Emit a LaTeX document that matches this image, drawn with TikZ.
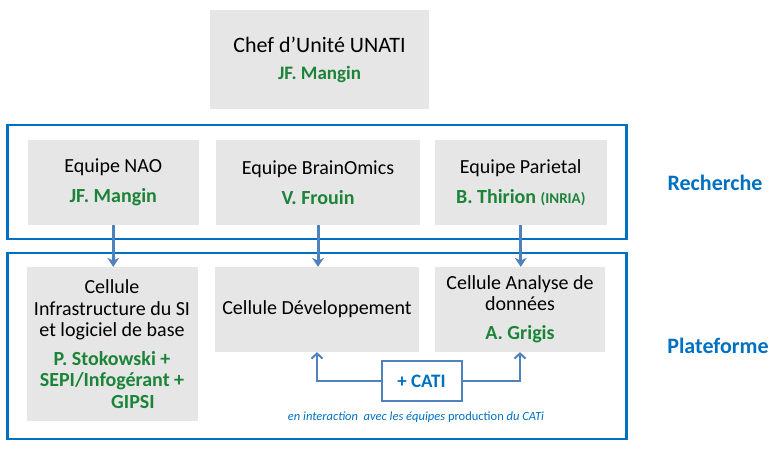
\documentclass[tikz,border=0pt]{standalone}
\usepackage{fontspec}
\setmainfont{Carlito}
\usetikzlibrary{arrows.meta,positioning}
\definecolor{boxgray}{RGB}{230,230,230}
\definecolor{frameblue}{RGB}{0,112,192}
\definecolor{namegreen}{RGB}{28,132,56}
\definecolor{arrowblue}{RGB}{79,129,189}
\newcommand{\nom}[1]{{\bfseries\color{namegreen}#1}}

\begin{document}
\begin{tikzpicture}[x=1pt, y=-1pt,
  boite/.style={fill=boxgray, align=center, inner sep=0pt},
  cadre/.style={draw=frameblue, line width=2.5pt, inner sep=0pt},
  fleche/.style={draw=arrowblue, line width=3pt, -{Stealth[length=9pt,width=12pt]}},
  lien/.style={draw=arrowblue, line width=2pt, -{Straight Barb[length=5pt,width=11pt]}},
  titre/.style={font=\fontsize{22}{26}\selectfont\bfseries, text=frameblue}]
  \useasboundingbox (0,0) rectangle (773,453);

  % Chef
  \node[boite, minimum width=219pt, minimum height=99pt,
    font=\fontsize{22}{27}\selectfont] (chef) at (319.5,59.5)
    {Chef d'Unité UNATI\\\nom{\fontsize{19}{27}\selectfont JF. Mangin}};

  % Recherche
  \node[cadre, minimum width=619pt, minimum height=114pt] (recherche) at (317,182) {};
  \node[titre] (lrecherche) at (715,183) {Recherche};
  \node[boite, minimum width=171.5pt, minimum height=85pt,
    font=\fontsize{20}{30}\selectfont] (nao) at (113.25,182.5)
    {Equipe NAO\\\nom{JF. Mangin}};
  \node[boite, minimum width=204pt, minimum height=85pt,
    font=\fontsize{20}{30}\selectfont] (brain) at (318,182.5)
    {Equipe BrainOmics\\\nom{V. Frouin}};
  \node[boite, minimum width=171.5pt, minimum height=85pt,
    font=\fontsize{20}{30}\selectfont] (parietal) at (520.75,182.5)
    {Equipe Parietal\\\nom{B. Thirion {\fontsize{15}{30}\selectfont(INRIA)}}};

  % Plateforme
  \node[cadre, minimum width=619pt, minimum height=186pt] (plateforme) at (317,346) {};
  \node[titre] (lplateforme) at (718,346) {Plateforme};
  \node[boite, minimum width=171pt, minimum height=154pt,
    font=\fontsize{20}{21.5}\selectfont] (infra) at (112,344)
    {Cellule\\Infrastructure du SI\\et logiciel de base\\[7pt]
     \nom{P. Stokowski +}\\\nom{SEPI/Infogérant +}\\\nom{\hspace*{42pt}GIPSI}};
  \node[boite, minimum width=204pt, minimum height=85pt,
    font=\fontsize{20}{24}\selectfont] (dev) at (317,309.5)
    {Cellule Développement};
  \node[boite, minimum width=170pt, minimum height=85pt,
    font=\fontsize{20}{21}\selectfont] (ana) at (520,309.5)
    {Cellule Analyse de\\données\\[8pt]\nom{A. Grigis}};
  \node[draw=arrowblue, line width=2pt, minimum width=80pt, minimum height=40pt,
    font=\fontsize{19}{22}\selectfont\bfseries, text=frameblue] (cati) at (421.5,381) {+ CATI};
  \node[font=\fontsize{12.5}{15}\selectfont, text=frameblue] (note) at (416,417)
    {\itshape en interaction\ \ avec les équipes \upshape production \itshape du CATi};

  % Fleches
  \foreach \e/\c in {nao/infra, brain/dev, parietal/ana}
    \draw[fleche] (\e.south) -- (\e.south |- \c.north);
  \draw[lien] (cati.west) -| (dev.south);
  \draw[lien] (cati.east) -| (ana.south);
\end{tikzpicture}
\end{document}
